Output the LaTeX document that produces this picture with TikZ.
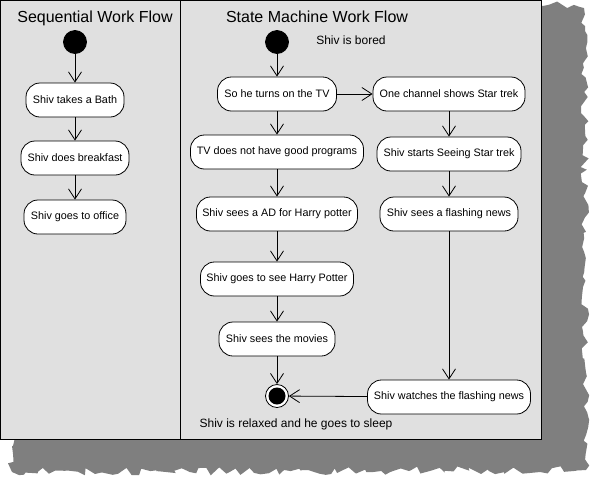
\documentclass[tikz,border=0pt]{standalone}
\usepackage{fontspec}
\setmainfont{Liberation Sans}
\usetikzlibrary{positioning,arrows.meta,decorations.pathmorphing}

\definecolor{panelgray}{HTML}{E0E0E0}
\definecolor{shadowgray}{HTML}{7F7F7F}

\tikzset{
  act/.style={draw, rounded corners=14pt, fill=white, minimum height=34pt,
    inner xsep=4pt, font=\fontsize{10.8}{13}\selectfont},
  startdot/.style={circle, fill=black, draw, minimum size=23pt, inner sep=0pt},
  stopdot/.style={circle, draw, fill=white, minimum size=23pt, inner sep=0pt},
  flow/.style={-{Straight Barb[length=10pt,width=13pt]}},
  heading/.style={font=\fontsize{16}{19}\selectfont},
  note/.style={font=\fontsize{12}{14}\selectfont}
}

\begin{document}
\begin{tikzpicture}[x=1pt, y=-1pt, line width=0.8pt]
            \useasboundingbox (0,0) rectangle (599,483);

            % torn shadow and the two panels
            \pgfmathsetseed{7}
            \fill[shadowgray, decorate,
            decoration={random steps, segment length=6pt, amplitude=4pt}]
            (530,3) -- (584,8) -- (586,470) -- (12,472) -- (12,430) -- cycle;
            \draw[fill=panelgray] (0,0) rectangle (541,439);
            \draw (180,0) -- (180,439);

            \node[heading] (seqtitle) at (95,18) {Sequential Work Flow};
            \node[heading] (smtitle) at (317,17) {State Machine Work Flow};

            % sequential work flow
            \node[startdot] (seqstart) at (75,42) {};
            \node[act, minimum width=98pt] (bath) at (75,100) {Shiv takes a Bath};
            \node[act, minimum width=108pt] (breakfast) at (75,158) {Shiv does breakfast};
            \node[act, minimum width=102pt] (office) at (75,217) {Shiv goes to office};

            \path[flow]
            (seqstart) edge (bath)
            (bath) edge (breakfast)
            (breakfast) edge (office);

            % state machine work flow
            \node[startdot] (smstart) at (277,42) {};
            \node[note] (bored) at (351,40) {Shiv is bored};

            \node[act, minimum width=119pt] (tv) at (277,94) {So he turns on the TV};
            \node[act, minimum width=152pt] (channel) at (449,94) {One channel shows Star trek};
            \node[act, minimum width=173pt] (nogood) at (277,152) {TV does not have good programs};
            \node[act, minimum width=144pt] (startrek) at (449,154) {Shiv starts Seeing Star trek};
            \node[act, minimum width=161pt] (advert) at (277,214) {Shiv sees a AD for Harry potter};
            \node[act, minimum width=138pt] (flashing) at (449,214) {Shiv sees a flashing news};
            \node[act, minimum width=153pt] (gotosee) at (277,279) {Shiv goes to see Harry Potter};
            \node[act, minimum width=116pt] (movies) at (277,339) {Shiv sees the movies};
            \node[act, minimum width=163pt] (watches) at (449,397) {Shiv watches the flashing news};

            \node[stopdot] (smstop) at (277,396) {};
            \fill (smstop) circle (8.5pt);
            \node[note] (relaxed) at (296,424) {Shiv is relaxed and he goes to sleep};

            \path[flow]
            (smstart) edge (tv)
            (tv) edge (channel)
            (tv) edge (nogood)
            (nogood) edge (advert)
            (advert) edge (gotosee)
            (gotosee) edge (movies)
            (movies) edge (smstop)
            (channel) edge (startrek)
            (startrek) edge (flashing)
            (flashing) edge (watches)
            (watches) edge (smstop);
          \end{tikzpicture}
\end{document}
